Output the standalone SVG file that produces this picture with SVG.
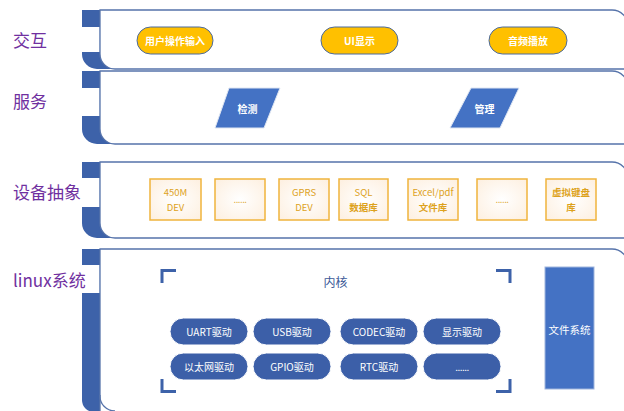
<svg xmlns="http://www.w3.org/2000/svg" width="624" height="411" viewBox="0 0 624 411">
<defs>
<style>
.lbl{font-family:"Noto Sans CJK SC","Noto Sans",sans-serif;font-size:17px;fill:#7030a0}
.band{fill:#3d62a9}
.panel{fill:#ffffff;stroke:#5673aa;stroke-width:1.3}
.notch{fill:#ffffff}
.ypill{fill:#ffc000;stroke:#4a6aa0;stroke-width:1}
.ytxt{font-family:"Noto Sans CJK SC",sans-serif;font-size:10px;font-weight:bold;fill:#ffffff;text-anchor:middle;dominant-baseline:central}
.para{fill:#4472c4;stroke:#dfe6f2;stroke-width:1}
.ptxt{font-family:"Noto Sans CJK SC",sans-serif;font-size:10px;font-weight:bold;fill:#ffffff;text-anchor:middle;dominant-baseline:central}
.dev{fill:url(#devg);stroke:#f0b43c;stroke-width:1.5}
.dtxt{font-family:"Noto Sans CJK SC","Open Sans",sans-serif;font-size:9.5px;fill:#dda21c;text-anchor:middle;dominant-baseline:central}
.dtxtb{font-family:"Noto Sans CJK SC",sans-serif;font-size:9.5px;font-weight:bold;fill:#dda21c;text-anchor:middle;dominant-baseline:central}
.bpill{fill:#3c5fa8;stroke:#ffffff;stroke-width:1}
.btxt{font-family:"Noto Sans CJK SC","Open Sans",sans-serif;font-size:10px;fill:#ffffff;text-anchor:middle;dominant-baseline:central}
.brk{fill:none;stroke:#3d62a9;stroke-width:3}
</style>
<radialGradient id="devg" cx="0.5" cy="0.5" r="0.75">
<stop offset="0" stop-color="#ffffff"/>
<stop offset="1" stop-color="#fdeedd"/>
</radialGradient>
</defs>

<g id="layer-interaction">
<path class="band" d="M82,10 H120 V69 H97 A15,15 0 0 1 82,54 Z"/>
<path class="panel" d="M100,10 H612 A16,16 0 0 1 628,26 V69 H115 A15,15 0 0 1 100,54 Z"/>
<rect class="notch" x="78" y="27" width="21.3" height="25"/>
<text class="lbl" x="13" y="47">交互</text>
</g>
<g id="node-user-input"><rect class="ypill" x="137" y="27" width="76" height="27" rx="13.5"/><text class="ytxt" x="175" y="40.5">用户操作输入</text></g>
<g id="node-ui-display"><rect class="ypill" x="321" y="27" width="77" height="27" rx="13.5"/><text class="ytxt" x="359.5" y="40.5">UI显示</text></g>
<g id="node-audio"><rect class="ypill" x="489" y="27" width="78" height="27" rx="13.5"/><text class="ytxt" x="528" y="40.5">音频播放</text></g>

<g id="layer-service">
<path class="band" d="M82,71 H120 V144 H97 A15,15 0 0 1 82,129 Z"/>
<path class="panel" d="M100,71 H612 A16,16 0 0 1 628,87 V144 H115 A15,15 0 0 1 100,129 Z"/>
<rect class="notch" x="78" y="88" width="21.3" height="28"/>
<text class="lbl" x="13" y="108">服务</text>
</g>
<g id="node-detect"><polygon class="para" points="229,88 280,88 264,128 215,128"/><text class="ptxt" x="247.5" y="108">检测</text></g>
<g id="node-manage"><polygon class="para" points="471,88 519,88 500,128 450,128"/><text class="ptxt" x="484.5" y="108">管理</text></g>

<g id="layer-device">
<path class="band" d="M82,162 H120 V238 H97 A15,15 0 0 1 82,223 Z"/>
<path class="panel" d="M100,162 H612 A16,16 0 0 1 628,178 V238 H115 A15,15 0 0 1 100,223 Z"/>
<rect class="notch" x="78" y="178" width="21.3" height="29"/>
<text class="lbl" x="13" y="199">设备抽象</text>
</g>
<g id="node-450m"><rect class="dev" x="150" y="179" width="51" height="41"/><text class="dtxt" x="175.5" y="192">450M</text><text class="dtxt" x="175.5" y="207">DEV</text></g>
<g id="node-dots1"><rect class="dev" x="215" y="179" width="50" height="41"/><text class="dtxt" x="240" y="199" style="letter-spacing:-0.5px">......</text></g>
<g id="node-gprs"><rect class="dev" x="279" y="179" width="50" height="41"/><text class="dtxt" x="304" y="192">GPRS</text><text class="dtxt" x="304" y="207">DEV</text></g>
<g id="node-sql"><rect class="dev" x="339" y="179" width="49" height="41"/><text class="dtxt" x="363.5" y="192">SQL</text><text class="dtxtb" x="363.5" y="207">数据库</text></g>
<g id="node-excel"><rect class="dev" x="408" y="179" width="50" height="41"/><text class="dtxt" x="433" y="192">Excel/pdf</text><text class="dtxtb" x="433" y="207">文件库</text></g>
<g id="node-dots2"><rect class="dev" x="477" y="179" width="50" height="41"/><text class="dtxt" x="502" y="199" style="letter-spacing:-0.5px">......</text></g>
<g id="node-vkbd"><rect class="dev" x="546" y="179" width="50" height="41"/><text class="dtxtb" x="571" y="192">虚拟键盘</text><text class="dtxtb" x="571" y="207">库</text></g>

<g id="layer-linux">
<path class="band" d="M82,249 H120 V412 H94 A12,12 0 0 1 82,400 Z"/>
<path class="panel" d="M100,249 H612 A16,16 0 0 1 628,265 V430 H100 Z"/>
<path d="M100,395 A15,15 0 0 0 115,411" fill="none" stroke="#5673aa" stroke-width="1.3"/>
<rect class="notch" x="78" y="265" width="21.3" height="28"/>
<text class="lbl" x="13" y="287">linux系统</text>
</g>
<g id="kernel-frame">
<path class="brk" d="M162,283 V270.5 H176"/>
<path class="brk" d="M496,270.5 H510 V283"/>
<path class="brk" d="M162,379 V391.5 H176"/>
<path class="brk" d="M496,391.5 H510 V379"/>
<text x="335.5" y="281" style="font-family:'Noto Sans CJK SC',sans-serif;font-size:12px;fill:#3d5a98;text-anchor:middle;dominant-baseline:central">内核</text>
</g>
<g id="node-uart"><rect class="bpill" x="170" y="318" width="78" height="27" rx="13.5"/><text class="btxt" x="209" y="331.5">UART驱动</text></g>
<g id="node-usb"><rect class="bpill" x="253" y="318" width="78" height="27" rx="13.5"/><text class="btxt" x="292" y="331.5">USB驱动</text></g>
<g id="node-codec"><rect class="bpill" x="340" y="318" width="78" height="27" rx="13.5"/><text class="btxt" x="379" y="331.5">CODEC驱动</text></g>
<g id="node-display"><rect class="bpill" x="423" y="318" width="78" height="27" rx="13.5"/><text class="btxt" x="462" y="331.5">显示驱动</text></g>
<g id="node-eth"><rect class="bpill" x="170" y="353" width="78" height="27" rx="13.5"/><text class="btxt" x="209" y="366.5">以太网驱动</text></g>
<g id="node-gpio"><rect class="bpill" x="253" y="353" width="78" height="27" rx="13.5"/><text class="btxt" x="292" y="366.5">GPIO驱动</text></g>
<g id="node-rtc"><rect class="bpill" x="340" y="353" width="78" height="27" rx="13.5"/><text class="btxt" x="379" y="366.5">RTC驱动</text></g>
<g id="node-more"><rect class="bpill" x="423" y="353" width="78" height="27" rx="13.5"/><text class="btxt" x="462" y="366.5" style="letter-spacing:-0.5px">......</text></g>
<g id="node-fs"><rect x="545" y="267" width="49" height="122" fill="#4472c4" stroke="#9fb5dd" stroke-width="1"/><text class="btxt" x="569.5" y="329" style="font-size:10.5px">文件系统</text></g>

<g id="connectors"></g>
</svg>
